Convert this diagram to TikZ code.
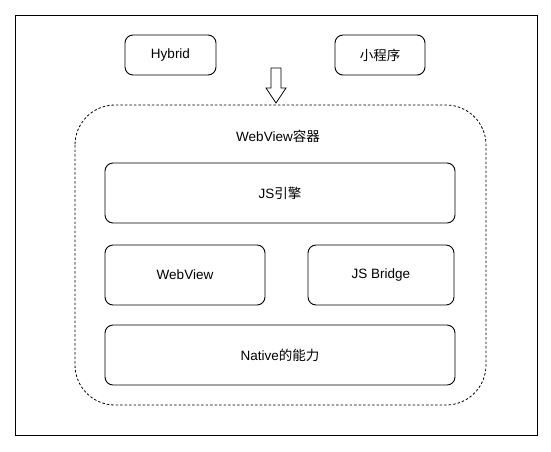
\documentclass[tikz,border=0pt]{standalone}
\usepackage{fontspec}
\setmainfont{Liberation Sans}
\newfontfamily\cjk{Noto Sans CJK SC}
\begin{document}
\begin{tikzpicture}[x=1pt,y=-1pt,
  box/.style={draw=black, line width=0.9pt, rounded corners=8pt, fill=white},
  lbl/.style={font=\fontsize{13.5}{16}\selectfont, inner sep=0pt},
  container/.style={draw=black, line width=0.8pt, dash pattern=on 2.5pt off 2pt, rounded corners=40pt}]
\useasboundingbox (0,0) rectangle (551,451);
\fill[white] (0,0) rectangle (551,451);
% outer frame
\draw[line width=0.9pt] (15,15) rectangle (537,435);
% top boxes
\draw[box] (125,35) rectangle (216,75);
\node[lbl] (hybrid) at (170.5,55) {Hybrid};
\draw[box] (335,35) rectangle (425,75);
\node[lbl] (mini) at (380,55) {\cjk 小程序};
% hollow arrow
\draw[line width=0.8pt, fill=white, line join=miter]
  (271,68) -- (281,68) -- (281,88) -- (286,88) -- (276,103) -- (266,88) -- (271,88) -- cycle;
% container
\draw[container] (75,105) rectangle (486,405);
\node[lbl] (title) at (278,136) {WebView\cjk 容器};
% inner boxes
\draw[box] (105,163) rectangle (455,223);
\node[lbl] (js) at (280,193) {JS\cjk 引擎};
\draw[box] (105,245) rectangle (265,305);
\node[lbl] (wv) at (185,275) {WebView};
\draw[box] (308,245) rectangle (454,305);
\node[lbl] (bridge) at (381,275) {JS Bridge};
\draw[box] (105,325) rectangle (455,385);
\node[lbl] (native) at (280,355) {Native\cjk 的能力};
\end{tikzpicture}
\end{document}
